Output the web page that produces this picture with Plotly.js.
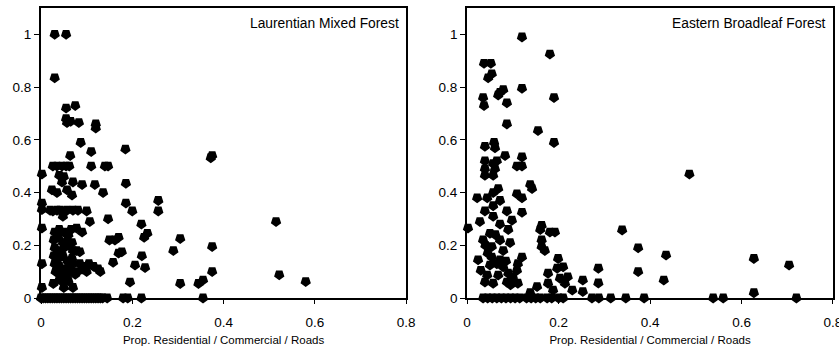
<!DOCTYPE html>
<html>
<head>
<meta charset="utf-8">
<script src="https://cdn.plot.ly/plotly-3.0.1.min.js"></script>
<style>html,body{margin:0;padding:0;background:#fff;}#chart{width:839px;height:351px;}</style>
</head>
<body>
<div id="chart"></div>
<script>
// Panel titles and axis labels
const panelTitles = ["Laurentian Mixed Forest", "Eastern Broadleaf Forest"];
const xAxisTitle = "Prop. Residential / Commercial / Roads";
const xTickVals = [0, 0.2, 0.4, 0.6, 0.8];
const xTickText = ["0", "0.2", "0.4", "0.6", "0.8"];
const yTickVals = [0, 0.2, 0.4, 0.6, 0.8, 1];
const yTickText = ["0", "0.2", "0.4", "0.6", "0.8", "1"];

// Laurentian Mixed Forest
const lmfX = [
  0.03, 0.055, 0.03, 0.055, 0.075, 0.055, 0.057, 0.065, 0.083, 0.12, 0.12, 0.087, 0.11, 0.064, 0.185, 0.375, 0.372,
  0.026, 0.035, 0.046, 0.055, 0.062, 0.11, 0.14, 0.147,
  0.002, 0.04, 0.05, 0.046, 0.07, 0.09, 0.118, 0.186, 0.024, 0.035, 0.057, 0.068, 0.136, 0.002, 0.186, 0.2, 0.257, 0.257,
  0.002, 0.02, 0.026, 0.035, 0.042, 0.05, 0.057, 0.07, 0.081,
  0.048, 0.1, 0.107, 0.147, 0.002, 0.078, 0.09, 0.22, 0.233, 0.226, 0.15, 0.162, 0.17, 0.177, 0.158, 0.206, 0.221, 0.228,
  0.195, 0.29, 0.305, 0.305, 0.345, 0.355, 0.375, 0.375, 0.515, 0.522, 0.58, 0.085, 0.078, 0.17,
  0.03, 0.04, 0.05, 0.06, 0.066,
  0.028, 0.038, 0.048, 0.058, 0.068,
  0.03, 0.04, 0.05, 0.06, 0.07,
  0.028, 0.038, 0.048, 0.058, 0.068,
  0.03, 0.04, 0.05, 0.06, 0.07,
  0.032, 0.045, 0.055, 0.065, 0.075,
  0.04, 0.05, 0.06,
  0.085, 0.095, 0.105, 0.115, 0.125, 0.13, 0.1, 0.09, 0.08,
  0.07, 0.05, 0.027, 0.002, 0.002,
  0, 0.005, 0.01, 0.015, 0.02, 0.025, 0.03, 0.035, 0.04, 0.045, 0.05, 0.055, 0.06, 0.065, 0.07, 0.075, 0.08,
  0.085, 0.09, 0.095, 0.1, 0.105, 0.11, 0.115, 0.12, 0.125, 0.13, 0.135, 0.145, 0.18, 0.19, 0.22, 0.355
];
const lmfY = [
  1.0, 1.0, 0.835, 0.72, 0.73, 0.68, 0.665, 0.67, 0.665, 0.66, 0.645, 0.59, 0.555, 0.54, 0.565, 0.54, 0.532,
  0.5, 0.5, 0.5, 0.5, 0.5, 0.5, 0.5, 0.5,
  0.47, 0.465, 0.46, 0.44, 0.44, 0.43, 0.43, 0.435, 0.41, 0.4, 0.41, 0.39, 0.4, 0.36, 0.36, 0.33, 0.37, 0.33,
  0.335, 0.333, 0.33, 0.333, 0.333, 0.33, 0.333, 0.333, 0.333,
  0.31, 0.33, 0.29, 0.3, 0.265, 0.265, 0.25, 0.28, 0.245, 0.23, 0.22, 0.22, 0.23, 0.175, 0.135, 0.125, 0.16, 0.115,
  0.06, 0.18, 0.225, 0.055, 0.055, 0.068, 0.195, 0.1, 0.29, 0.088, 0.062, 0.175, 0.18, 0.17,
  0.25, 0.26, 0.25, 0.24, 0.26,
  0.22, 0.23, 0.21, 0.22, 0.21,
  0.19, 0.18, 0.19, 0.2, 0.18,
  0.16, 0.15, 0.16, 0.14, 0.15,
  0.13, 0.12, 0.11, 0.12, 0.13,
  0.1, 0.09, 0.08, 0.1, 0.09,
  0.07, 0.06, 0.065,
  0.13, 0.12, 0.13, 0.12, 0.11, 0.1, 0.1, 0.11, 0.1,
  0.04, 0.04, 0.055, 0.13, 0.04,
  0, 0, 0, 0, 0, 0, 0, 0, 0, 0, 0, 0, 0, 0, 0, 0, 0,
  0, 0, 0, 0, 0, 0, 0, 0, 0, 0, 0, 0, 0, 0, 0, 0
];

// Eastern Broadleaf Forest
const ebfX = [
  0.12, 0.181, 0.037, 0.052, 0.054, 0.046, 0.035, 0.037, 0.079, 0.068, 0.072, 0.087, 0.12, 0.19, 0.087, 0.155, 0.19,
  0.039, 0.059, 0.061, 0.083, 0.039, 0.065, 0.039, 0.061, 0.12, 0.109, 0.12,
  0.057, 0.039, 0.057, 0.138, 0.142, 0.022, 0.044, 0.057, 0.068, 0.072, 0.057, 0.109, 0.12, 0.039, 0.087, 0.12, 0.057,
  0.072, 0.098, 0.002, 0.028, 0.035, 0.05, 0.054, 0.072, 0.09, 0.094, 0.079, 0.16, 0.163, 0.181, 0.192, 0.163, 0.163,
  0.17, 0.199, 0.12, 0.111, 0.024, 0.03, 0.05, 0.044, 0.057, 0.039, 0.068, 0.079, 0.09, 0.087, 0.1, 0.111, 0.109,
  0.054, 0.072, 0.138, 0.153, 0.177, 0.177, 0.197, 0.203, 0.188, 0.214, 0.23, 0.21, 0.22, 0.253, 0.253, 0.287, 0.287,
  0.339, 0.486, 0.374, 0.374, 0.435, 0.43, 0.627, 0.627, 0.704,
  0.04, 0.062, 0.065, 0.045, 0.085, 0.095,
  0.035, 0.045, 0.055, 0.065, 0.075, 0.085, 0.095, 0.105, 0.115, 0.13, 0.14, 0.15, 0.16, 0.175, 0.185, 0.2, 0.21,
  0.273, 0.288, 0.314, 0.347, 0.387, 0.538, 0.56, 0.72
];
const ebfY = [
  0.99, 0.925, 0.89, 0.89, 0.85, 0.835, 0.76, 0.73, 0.79, 0.77, 0.78, 0.74, 0.795, 0.76, 0.66, 0.635, 0.59,
  0.575, 0.59, 0.57, 0.54, 0.52, 0.52, 0.49, 0.49, 0.535, 0.5, 0.5,
  0.51, 0.465, 0.465, 0.43, 0.415, 0.38, 0.38, 0.4, 0.415, 0.37, 0.35, 0.395, 0.38, 0.33, 0.33, 0.325, 0.31,
  0.28, 0.295, 0.265, 0.29, 0.22, 0.245, 0.195, 0.22, 0.26, 0.21, 0.18, 0.26, 0.275, 0.25, 0.25, 0.22, 0.195,
  0.18, 0.15, 0.155, 0.13, 0.145, 0.105, 0.125, 0.087, 0.056, 0.06, 0.087, 0.118, 0.094, 0.06, 0.08, 0.056, 0.105,
  0.155, 0.145, 0.02, 0.043, 0.056, 0.094, 0.113, 0.075, 0.03, 0.056, 0.03, 0.118, 0.08, 0.068, 0.024, 0.113, 0.057,
  0.258, 0.47, 0.19, 0.1, 0.163, 0.068, 0.15, 0.02, 0.125,
  0.2, 0.24, 0.13, 0.17, 0.14, 0.05,
  0, 0, 0, 0, 0, 0, 0, 0, 0, 0, 0, 0, 0, 0, 0, 0, 0,
  0, 0, 0, 0, 0, 0, 0, 0
];

const markerStyle = {symbol: 'pentagon', angle: 180, size: 9, color: '#000', line: {color: '#000', width: 1.5}};

const traces = [
  {x: lmfX, y: lmfY, xaxis: 'x', yaxis: 'y', type: 'scatter', mode: 'markers', marker: markerStyle, cliponaxis: false, showlegend: false, hoverinfo: 'x+y'},
  {x: ebfX, y: ebfY, xaxis: 'x2', yaxis: 'y2', type: 'scatter', mode: 'markers', marker: markerStyle, cliponaxis: false, showlegend: false, hoverinfo: 'x+y'}
];

const fontFam = 'Liberation Sans, Arial, sans-serif';
const tickFont = {family: fontFam, size: 13.5, color: '#000'};
function xAxis(domain, anchor) {
  return {
    domain: domain, anchor: anchor, range: [0, 0.8], tickvals: xTickVals, ticktext: xTickText,
    ticks: 'outside', ticklen: 4, tickwidth: 1, tickcolor: '#000', ticklabelstandoff: 7,
    ticklabeloverflow: 'allow',
    showline: true, linecolor: '#000', linewidth: 2, mirror: true, showgrid: false, zeroline: false,
    tickfont: tickFont,
    title: {text: xAxisTitle, font: {family: fontFam, size: 11.5, color: '#000'}, standoff: 7}
  };
}
function yAxis(anchor) {
  return {
    domain: [0, 1], anchor: anchor, range: [0, 1.1], tickvals: yTickVals, ticktext: yTickText,
    ticks: 'outside', ticklen: 5, tickwidth: 1, tickcolor: '#000',
    showline: true, linecolor: '#000', linewidth: 2, mirror: true, showgrid: false, zeroline: false,
    tickfont: tickFont
  };
}

const layout = {
  width: 839, height: 351,
  margin: {l: 41, r: 6, t: 8, b: 53},
  paper_bgcolor: '#fff', plot_bgcolor: '#fff',
  xaxis: xAxis([0, 0.461], 'y'),
  yaxis: yAxis('x'),
  xaxis2: xAxis([0.538, 1], 'y2'),
  yaxis2: yAxis('x2'),
  annotations: [
    {text: panelTitles[0], xref: 'x domain', yref: 'y domain', x: 0.985, y: 0.98, xanchor: 'right', yanchor: 'top', showarrow: false, font: {family: fontFam, size: 13.8, color: '#000'}},
    {text: panelTitles[1], xref: 'x2 domain', yref: 'y2 domain', x: 0.985, y: 0.98, xanchor: 'right', yanchor: 'top', showarrow: false, font: {family: fontFam, size: 13.8, color: '#000'}}
  ]
};

Plotly.newPlot('chart', traces, layout, {staticPlot: true, displayModeBar: false});
</script>
</body>
</html>
